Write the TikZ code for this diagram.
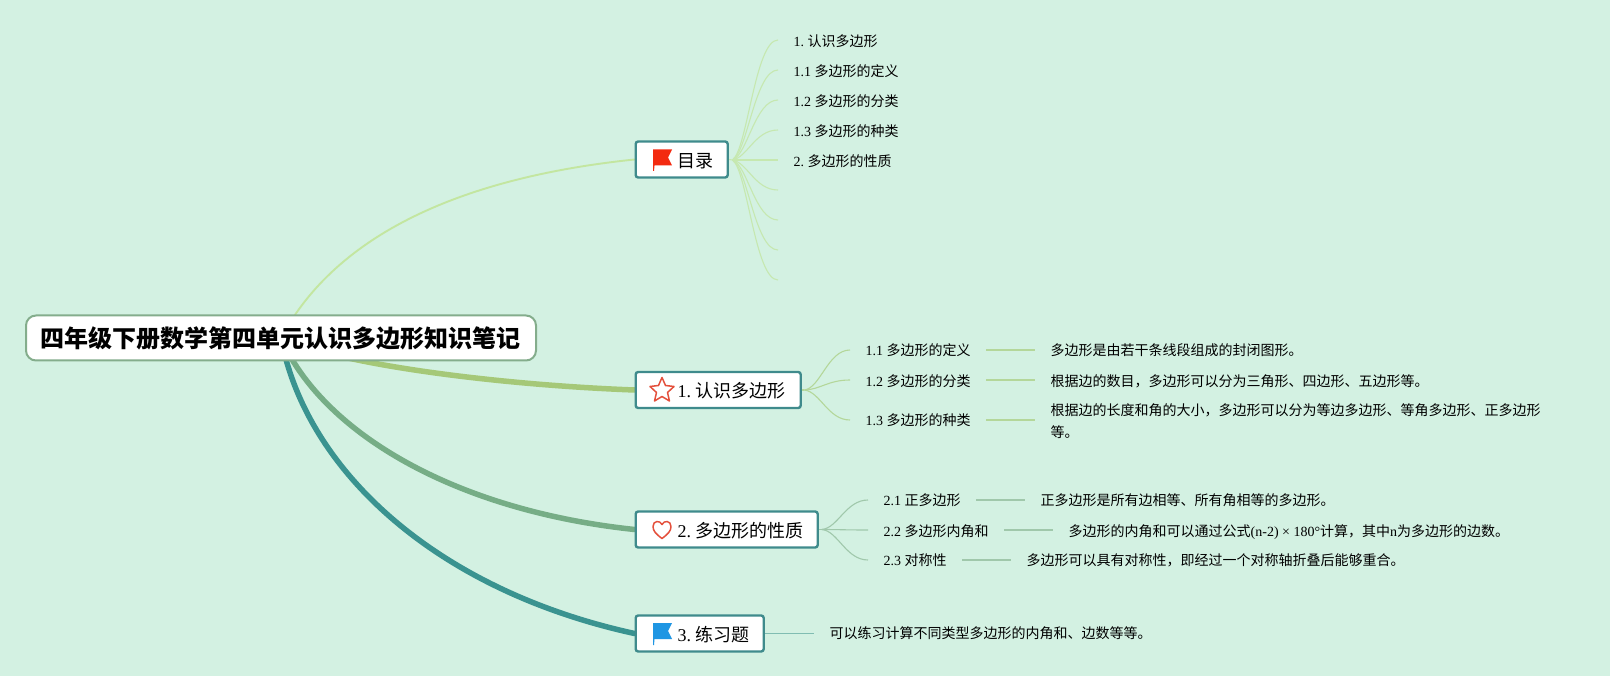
\documentclass[tikz,border=0pt]{standalone}
\usepackage{fontspec}
\setmainfont{Liberation Serif}
\newfontfamily\cj{Noto Sans CJK SC}
\usetikzlibrary{backgrounds}
\definecolor{bgc}{HTML}{D3F1E2}
\definecolor{rootline}{HTML}{84AD8C}
\definecolor{boxline}{HTML}{3F8B8C}
\definecolor{cA}{HTML}{C3E6A0}
\definecolor{cB}{HTML}{A5C878}
\definecolor{cC}{HTML}{76AD86}
\definecolor{cD}{HTML}{3A9390}
\definecolor{sA}{HTML}{C6E8B0}
\definecolor{sB}{HTML}{B4D79A}
\definecolor{sC}{HTML}{A0C8AB}
\definecolor{sD}{HTML}{80BDB2}
\definecolor{iconred}{HTML}{F32A10}
\definecolor{iconblue}{HTML}{1F96E3}
\definecolor{iconline}{HTML}{E4503C}
\newcommand{\C}[1]{{\cj #1}}
\tikzset{
  x=1pt,y=-1pt,
  rootnode/.style={draw=rootline,line width=2pt,fill=white,rounded corners=10pt,minimum width=510pt,minimum height=45pt,inner sep=0pt,anchor=west},
  topicbox/.style={draw=boxline,line width=2.4pt,fill=white,rounded corners=2.5pt,minimum height=36pt,inner sep=0pt,anchor=west},
  topictext/.style={anchor=west,inner sep=0pt,font=\fontsize{18}{22}\selectfont},
  leaf/.style={anchor=west,inner xsep=15.5pt,inner ysep=0pt,text height=12.5pt,text depth=0pt,font=\fontsize{14}{22.5}\selectfont,align=left},
  subleaf/.style={leaf,text height=11pt},
  mainedge/.style={line width=#1,line cap=round},
  thinedge/.style={line width=1.1pt},
  linkedge/.style={line width=1.3pt},
}
\begin{document}
\begin{tikzpicture}
\frenchspacing
\useasboundingbox (0,0) rectangle (1610,676);
% root and topics
\node[rootnode] (root) at (25,338) {};
\node at (280.5,338) {\fontsize{24}{28}\selectfont\cj\bfseries 四年级下册数学第四单元认识多边形知识笔记};
\node[topicbox,minimum width=92pt] (t0) at (634.5,159.5) {};
\node[topicbox,minimum width=165pt] (t1) at (634.5,390) {};
\node[topicbox,minimum width=182pt] (t2) at (634.5,529.5) {};
\node[topicbox,minimum width=128pt] (t3) at (634.5,633.5) {};
\node[topictext] at (677.5,161) {\C{目录}};
\node[topictext] at (677.5,391) {1. \C{认识多边形}};
\node[topictext] at (677.5,531) {2. \C{多边形的性质}};
\node[topictext] at (677.5,635) {3. \C{练习题}};
% icons
\fill[iconred] (653,149.5) -- (672,149.5) -- (668,157.5) -- (672,165.5) -- (654.5,165.5) -- (654,171) -- (653,171) -- cycle;
\fill[iconblue] (653,623) -- (672,623) -- (668,631) -- (672,639) -- (654.5,639) -- (654,645) -- (653,645) -- cycle;
\draw[iconline,line width=1.5pt,line join=round] (662,377.5) -- (665.5,385.5) -- (674,386.5) -- (667.5,392.5) -- (669.5,401) -- (662,396.5) -- (654.5,401) -- (656.5,392.5) -- (650,386.5) -- (658.5,385.5) -- cycle;
\draw[iconline,line width=1.5pt,line join=round] (662,538.5) .. controls (656,534) and (653,531) .. (653,526.5) .. controls (653,520.5) and (660,520) .. (662,524.5) .. controls (664,520) and (671,520.5) .. (671,526.5) .. controls (671,531) and (668,534) .. (662,538.5) -- cycle;
% leaves of the contents topic
\node[leaf] (a1) at (778,40) {1. \C{认识多边形}};
\node[leaf] (a2) at (778,70) {1.1 \C{多边形的定义}};
\node[leaf] (a3) at (778,100) {1.2 \C{多边形的分类}};
\node[leaf] (a4) at (778,130) {1.3 \C{多边形的种类}};
\node[leaf] (a5) at (778,160) {2. \C{多边形的性质}};
\coordinate (a6) at (778,190);
\coordinate (a7) at (778,220);
\coordinate (a8) at (778,250);
\coordinate (a9) at (778,280);
% topic 1
\node[subleaf] (b1) at (850,350) {1.1 \C{多边形的定义}};
\node[leaf] (b2) at (850,380) {1.2 \C{多边形的分类}};
\node[subleaf] (b3) at (850,420) {1.3 \C{多边形的种类}};
\node[subleaf] (bt1) at (1035,350) {\C{多边形是由若干条线段组成的封闭图形。}};
\node[leaf] (bt2) at (1035,380) {\C{根据边的数目，多边形可以分为三角形、四边形、五边形等。}};
\node[leaf,text height=,text depth=] (bt3) at (1035,421) {\C{根据边的长度和角的大小，多边形可以分为等边多边形、等角多边形、正多边形}\\\C{等。}};
% topic 2
\node[subleaf] (c1) at (868,500) {2.1 \C{正多边形}};
\node[leaf] (c2) at (868,530) {2.2 \C{多边形内角和}};
\node[subleaf] (c3) at (868,560) {2.3 \C{对称性}};
\node[subleaf] (ct1) at (1025,500) {\C{正多边形是所有边相等、所有角相等的多边形。}};
\node[leaf] (ct2) at (1053,530) {\C{多边形的内角和可以通过公式}(n-2) × 180°\C{计算，其中}n\C{为多边形的边数。}};
\node[subleaf] (ct3) at (1011,560) {\C{多边形可以具有对称性，即经过一个对称轴折叠后能够重合。}};
% topic 3
\node[subleaf] (dt1) at (814,633) {\C{可以练习计算不同类型多边形的内角和、边数等等。}};
\coordinate (o0) at ([xshift=3.5pt,yshift=-0.5pt]t0.east);
\coordinate (o1) at ([xshift=2.5pt]t1.east);
\coordinate (o2) at ([xshift=3pt]t2.east);
\begin{scope}[on background layer]
\fill[bgc] (0,0) rectangle (1610,676);
% main branches
\draw[cA,mainedge=1.9pt] (root.center) .. controls +(60,-113) and +(-154,16) .. (t0.west);
\draw[cB,mainedge=5.5pt] (root.center) .. controls +(60,27) and +(-134,-5) .. (t1.west);
\draw[cC,mainedge=5.5pt] (root.center) .. controls +(40,92) and +(-184,-19.5) .. (t2.west);
\draw[cD,mainedge=5.5pt] (root.center) .. controls +(25,132) and +(-199,-43.5) .. (t3.west);
% stems from box to fan origin
\draw[sA,thinedge] (t0.east) -- (o0);
\draw[sB,thinedge] (t1.east) -- (o1);
\draw[sC,thinedge] (t2.east) -- (o2);
% contents fan
\foreach \n/\d in {a1/-10,a2/-7.5,a3/-5,a4/-2.5,a5/0}
  \draw[sA,thinedge] (o0) .. controls +(15,\d) and +(-23,0) .. (\n.west);
\foreach \n/\d in {a6/2.5,a7/5,a8/7.5,a9/10}
  \draw[sA,thinedge] (o0) .. controls +(15,\d) and +(-23,0) .. (\n);
% topic 1 fan
\foreach \n/\d in {b1/-2,b2/-0.5,b3/2}
  \draw[sB,thinedge] (o1) .. controls +(16,\d) and +(-22,0) .. (\n.west);
\draw[sB,linkedge] (b1) -- (bt1.west |- b1);
\draw[sB,linkedge] (b2) -- (bt2.west |- b2);
\draw[sB,linkedge] (b3) -- (bt3.west |- b3);
% topic 2 fan
\foreach \n/\d in {c1/-1.5,c2/0,c3/1.5}
  \draw[sC,thinedge] (o2) .. controls +(16,\d) and +(-22,0) .. (\n.west);
\draw[sC,linkedge] (c1) -- (ct1);
\draw[sC,linkedge] (c2) -- (ct2);
\draw[sC,linkedge] (c3) -- (ct3);
% topic 3
\draw[sD,linkedge] (t3) -- (dt1.west |- t3);
\end{scope}
\end{tikzpicture}
\end{document}
